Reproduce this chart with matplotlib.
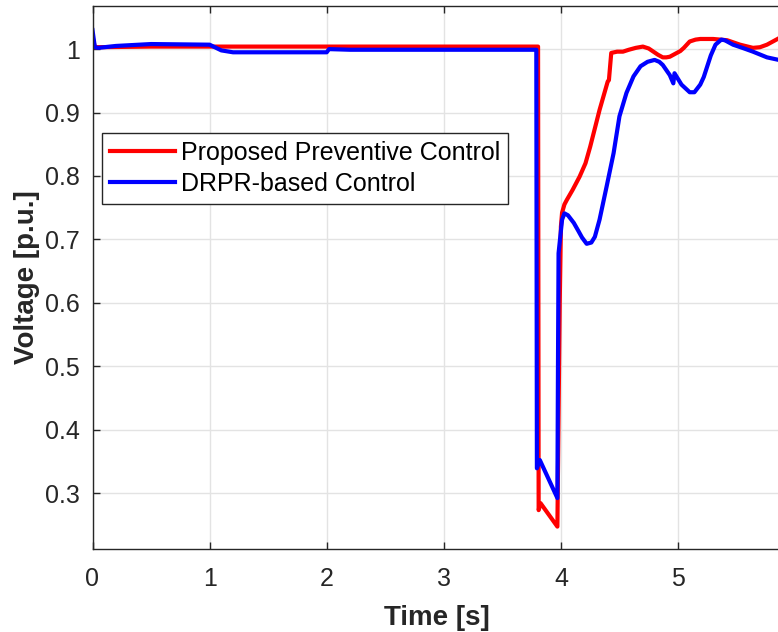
import numpy as np
import matplotlib
matplotlib.use("Agg")
from matplotlib import pyplot as plt

# données
t_red = [0.0, 0.02, 0.5, 1.0, 2.0, 3.0, 3.805, 3.81, 3.826, 3.97, 3.99, 4.0, 4.01,
         4.03, 4.05, 4.10, 4.16, 4.21, 4.25, 4.33, 4.40, 4.41, 4.43, 4.48, 4.53, 4.58,
         4.64, 4.70, 4.75, 4.79, 4.83, 4.87, 4.90, 4.93, 4.99, 5.02, 5.05, 5.10, 5.15,
         5.19, 5.30, 5.42, 5.53, 5.64, 5.70, 5.76, 5.80, 5.86]
v_red = [1.02, 1.003, 1.004, 1.004, 1.004, 1.004, 1.004, 0.273, 0.284, 0.247, 0.60, 0.72, 0.742,
         0.755, 0.762, 0.778, 0.799, 0.82, 0.846, 0.904, 0.949, 0.951, 0.994, 0.996, 0.996, 0.999,
         1.002, 1.004, 1.001, 0.996, 0.991, 0.987, 0.987, 0.988, 0.994, 0.997, 1.002, 1.012, 1.015,
         1.016, 1.016, 1.014, 1.007, 1.002, 1.003, 1.007, 1.011, 1.017]

t_blue = [0.0, 0.02, 0.05, 0.2, 0.5, 1.0, 1.1, 1.2, 2.0, 2.02, 2.2, 3.0, 3.79, 3.795, 3.82,
          3.97, 3.975, 3.98, 4.01, 4.03, 4.06, 4.11, 4.15, 4.18, 4.22, 4.26, 4.29, 4.33,
          4.39, 4.45, 4.50, 4.56, 4.62, 4.68, 4.74, 4.80, 4.84, 4.87, 4.93, 4.96, 4.97,
          5.03, 5.10, 5.14, 5.19, 5.22, 5.25, 5.28, 5.32, 5.37, 5.40, 5.47, 5.55, 5.64,
          5.76, 5.86]
v_blue = [1.03, 1.003, 1.002, 1.005, 1.008, 1.007, 0.998, 0.995, 0.995, 1.0, 0.999, 0.999, 0.999, 0.339, 0.352,
          0.292, 0.5, 0.678, 0.731, 0.741, 0.738, 0.726, 0.713, 0.703, 0.693, 0.695, 0.704, 0.731,
          0.783, 0.836, 0.894, 0.931, 0.957, 0.973, 0.980, 0.983, 0.980, 0.975, 0.959, 0.946, 0.962,
          0.944, 0.932, 0.932, 0.944, 0.956, 0.973, 0.99, 1.007, 1.015, 1.014, 1.007, 1.002, 0.996,
          0.987, 0.983]

labels = ['Proposed Preventive Control', 'DRPR-based Control']
x_ticks = [0, 1, 2, 3, 4, 5]
y_ticks = [0.3, 0.4, 0.5, 0.6, 0.7, 0.8, 0.9, 1.0]
y_tick_labels = ['0.3', '0.4', '0.5', '0.6', '0.7', '0.8', '0.9', '1']

plt.rcParams['font.family'] = ['Liberation Sans', 'DejaVu Sans']

fig = plt.figure(figsize=(7.78, 6.32), dpi=100)
ax = fig.add_axes([92.5 / 778, 1 - 549 / 632, (781 - 92.5) / 778, (549 - 6) / 632])

ax.plot(t_red, v_red, color='#ff0000', lw=3, label=labels[0])
ax.plot(t_blue, v_blue, color='#0000ff', lw=3, label=labels[1])

ax.set_xlim(0, (781 - 92.5) / 117.1)
ax.set_ylim(0.2117, 1.068)
ax.set_xticks(x_ticks)
ax.set_yticks(y_ticks)
ax.set_yticklabels(y_tick_labels)

ax.grid(True, color='#e3e3e3', lw=1)
ax.set_axisbelow(True)
ax.tick_params(direction='in', length=5, width=1, colors='#262626', labelsize=18,
               top=True, right=False)
ax.tick_params(axis='x', pad=13)
ax.tick_params(axis='y', pad=9)
for s in ['left', 'bottom', 'top']:
    ax.spines[s].set_color('#262626')
    ax.spines[s].set_linewidth(1)
ax.spines['right'].set_visible(False)

ax.set_xlabel('Time [s]', fontsize=20, fontweight='bold', color='#262626', labelpad=10)
ax.set_ylabel('Voltage [p.u.]', fontsize=20, fontweight='bold', color='#262626', labelpad=4)

leg = ax.legend(loc='upper left', bbox_to_anchor=(0.014, 0.766), borderaxespad=0,
                fontsize=18, fancybox=False, edgecolor='#262626', framealpha=1,
                handlelength=2.6, handletextpad=0.25, labelspacing=0.3,
                borderpad=0.3)
leg.get_frame().set_linewidth(1)

plt.savefig('out.png', dpi=100)
